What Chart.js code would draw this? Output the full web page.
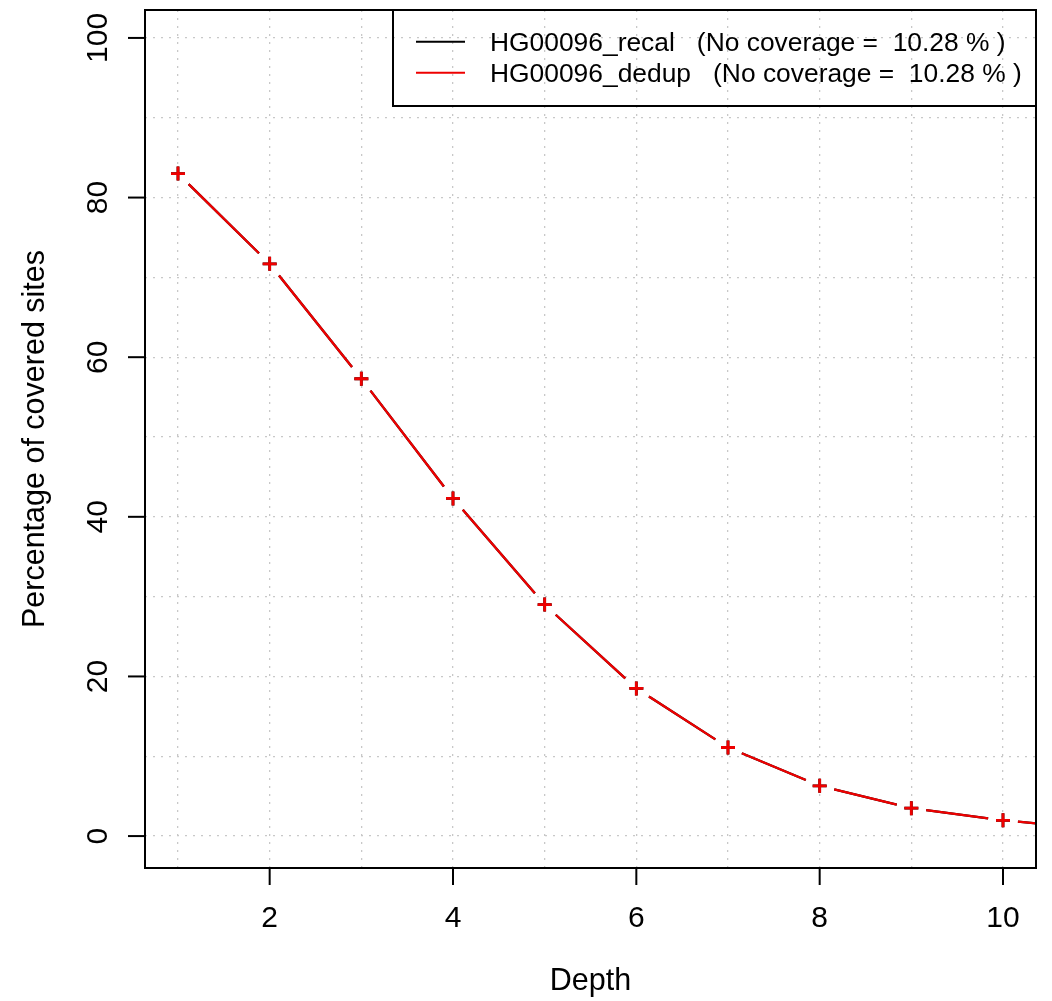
<!DOCTYPE html>
<html>
<head>
<meta charset="utf-8">
<script src="https://cdn.jsdelivr.net/npm/chart.js@4.4.1/dist/chart.umd.min.js"></script>
<style>
body { margin: 0; background: #fff; }
#wrap { width: 1052px; height: 1001px; }
</style>
</head>
<body>
<div id="wrap"><canvas id="depth" width="1052" height="1001"></canvas></div>
<script>
// values
const depth = [1, 2, 3, 4, 5, 6, 7, 8, 9, 10, 11];
const recal = [83.0, 71.7, 57.3, 42.3, 29.0, 18.5, 11.1, 6.3, 3.5, 1.97, 0.95];
const dedup = [83.0, 71.7, 57.3, 42.3, 29.0, 18.5, 11.1, 6.3, 3.5, 1.97, 0.95];

const seriesNames = [
    'HG00096_recal   (No coverage =  10.28 % )',
    'HG00096_dedup   (No coverage =  10.28 % )'
];
const seriesColors = ['#000000', '#ee0000'];

const xTicks = [2, 4, 6, 8, 10];
const yTicks = [0, 20, 40, 60, 80, 100];
const xGrid = [1, 2, 3, 4, 5, 6, 7, 8, 9, 10];
const yGrid = [0, 10, 20, 30, 40, 50, 60, 70, 80, 90, 100];

const FONT = '"Liberation Sans", Arial, sans-serif';
const GAP = 15;

function pts(ys) {
    return depth.map((x, i) => ({ x: x, y: ys[i] }));
}

// R type="b": segments that stop short of each point
const gapLines = {
    id: 'gapLines',
    beforeDatasetsDraw(chart) {
        const ctx = chart.ctx, a = chart.chartArea;
        ctx.save();
        ctx.beginPath();
        ctx.rect(a.left, a.top, a.right - a.left, a.bottom - a.top);
        ctx.clip();
        chart.data.datasets.forEach((ds, i) => {
            const el = chart.getDatasetMeta(i).data;
            ctx.strokeStyle = ds.pointBorderColor;
            ctx.lineWidth = 2.3;
            for (let k = 1; k < el.length; k++) {
                const p = el[k - 1], q = el[k];
                const dx = q.x - p.x, dy = q.y - p.y;
                const len = Math.hypot(dx, dy);
                if (len <= 2 * GAP) continue;
                const ux = dx / len, uy = dy / len;
                ctx.beginPath();
                ctx.moveTo(p.x + ux * GAP, p.y + uy * GAP);
                ctx.lineTo(q.x - ux * GAP, q.y - uy * GAP);
                ctx.stroke();
            }
        });
        ctx.restore();
    }
};

// box, ticks, labels, titles, legend
const frame = {
    id: 'frame',
    afterDraw(chart) {
        const ctx = chart.ctx, a = chart.chartArea;
        const xs = chart.scales.x, ys = chart.scales.y;
        ctx.save();
        ctx.strokeStyle = '#000';
        ctx.fillStyle = '#000';
        ctx.lineWidth = 2;
        ctx.strokeRect(a.left, a.top, a.right - a.left, a.bottom - a.top);

        ctx.font = '30px ' + FONT;
        ctx.textAlign = 'center';
        ctx.textBaseline = 'alphabetic';
        xTicks.forEach(v => {
            const px = xs.getPixelForValue(v);
            ctx.beginPath();
            ctx.moveTo(px, a.bottom);
            ctx.lineTo(px, a.bottom + 17);
            ctx.stroke();
            ctx.fillText(String(v), px, 927);
        });
        yTicks.forEach(v => {
            const py = ys.getPixelForValue(v);
            ctx.beginPath();
            ctx.moveTo(a.left, py);
            ctx.lineTo(a.left - 17, py);
            ctx.stroke();
            ctx.save();
            ctx.translate(107, py);
            ctx.rotate(-Math.PI / 2);
            ctx.fillText(String(v), 0, 0);
            ctx.restore();
        });

        ctx.font = '30.5px ' + FONT;
        ctx.fillText('Depth', (a.left + a.right) / 2, 990);
        ctx.save();
        ctx.translate(44, (a.top + a.bottom) / 2);
        ctx.rotate(-Math.PI / 2);
        ctx.fillText('Percentage of covered sites', 0, 0);
        ctx.restore();

        // legend
        ctx.lineWidth = 2;
        ctx.strokeRect(393, 10, 1036 - 393, 96);
        ctx.font = '26.4px ' + FONT;
        ctx.textAlign = 'left';
        seriesNames.forEach((name, i) => {
            const y = 41.7 + i * 31;
            ctx.strokeStyle = seriesColors[i];
            ctx.beginPath();
            ctx.moveTo(416, y);
            ctx.lineTo(465, y);
            ctx.stroke();
            ctx.fillText(name, 490, y + 9);
        });
        ctx.restore();
    }
};

new Chart(document.getElementById('depth'), {
    type: 'line',
    data: {
        datasets: [
            {
                label: seriesNames[0],
                data: pts(recal),
                order: 1,
                showLine: false,
                pointStyle: 'cross',
                pointRadius: 7,
                pointBorderWidth: 2.8,
                pointBorderColor: seriesColors[0],
                pointBackgroundColor: seriesColors[0]
            },
            {
                label: seriesNames[1],
                data: pts(dedup),
                order: 0,
                showLine: false,
                pointStyle: 'cross',
                pointRadius: 7,
                pointBorderWidth: 2.8,
                pointBorderColor: seriesColors[1],
                pointBackgroundColor: seriesColors[1]
            }
        ]
    },
    options: {
        responsive: false,
        animation: false,
        events: [],
        layout: { padding: { left: 145, right: 16, top: 10, bottom: 133 } },
        plugins: { legend: { display: false }, tooltip: { enabled: false } },
        scales: {
            x: {
                type: 'linear',
                min: 0.64,
                max: 10.36,
                afterBuildTicks: s => { s.ticks = xGrid.map(v => ({ value: v })); },
                afterFit: s => { s.height = 0; },
                ticks: { display: false },
                grid: { color: '#c8c8c8', lineWidth: 1.3, drawTicks: false },
                border: { display: false, dash: [2, 6] }
            },
            y: {
                type: 'linear',
                min: -4,
                max: 103.5,
                afterBuildTicks: s => { s.ticks = yGrid.map(v => ({ value: v })); },
                afterFit: s => { s.width = 0; },
                ticks: { display: false },
                grid: { color: '#c8c8c8', lineWidth: 1.3, drawTicks: false },
                border: { display: false, dash: [2, 6] }
            }
        }
    },
    plugins: [gapLines, frame]
});
</script>
</body>
</html>
